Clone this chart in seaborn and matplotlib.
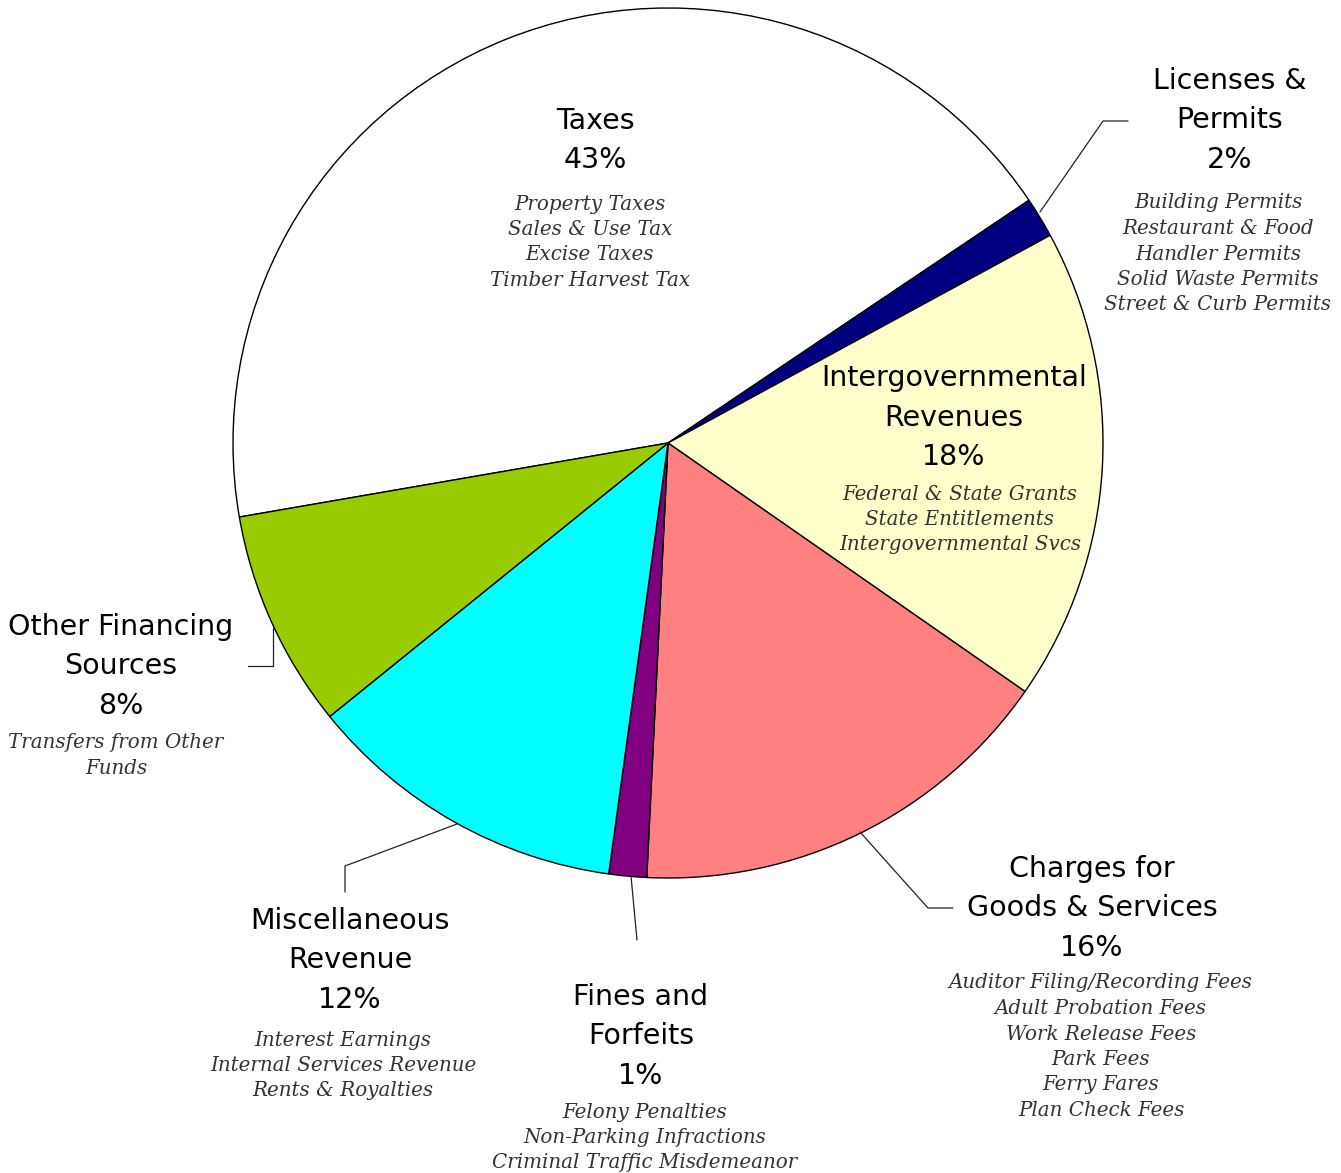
#!/usr/bin/env python3
"""Revenue sources pie chart with callout labels."""
import matplotlib
matplotlib.use("Agg")
import matplotlib.pyplot as plt
import seaborn as sns

# ---- data -----------------------------------------------------------------
categories = ["Taxes", "Licenses &\nPermits", "Intergovernmental\nRevenues",
              "Charges for\nGoods & Services", "Fines and\nForfeits",
              "Miscellaneous\nRevenue", "Other Financing\nSources"]
shares = [43.3, 1.5, 17.6, 16.1, 1.4, 12.0, 8.1]
pct_labels = ["43%", "2%", "18%", "16%", "1%", "12%", "8%"]
details = [
    ["Property Taxes", "Sales & Use Tax", "Excise Taxes", "Timber Harvest Tax"],
    ["Building Permits", "Restaurant & Food", "Handler Permits",
     "Solid Waste Permits", "Street & Curb Permits"],
    ["Federal & State Grants", "State Entitlements", "Intergovernmental Svcs"],
    ["Auditor Filing/Recording Fees", "Adult Probation Fees", "Work Release Fees",
     "Park Fees", "Ferry Fares", "Plan Check Fees"],
    ["Felony Penalties", "Non-Parking Infractions", "Criminal Traffic Misdemeanor"],
    ["Interest Earnings", "Internal Services Revenue", "Rents & Royalties"],
    ["Transfers from Other", "Funds"],
]
colors = ["#FFFFFF", "#000080", "#FFFFCC", "#FF8080", "#800080", "#00FFFF", "#99CC00"]

# ---- layout (pixel space, y measured from the top) ------------------------
W, H = 1341, 1173
CENTER = (668, 443)
RADIUS = 435
# anchor of the first title line and of the first detail line per block
title_pos = [(595, 121), (1230, 81), (954, 378), (1092, 869),
             (641, 997), (350, 921), (121, 627)]
detail_pos = [(590, 204), (1218, 203), (960, 494), (1101, 983),
              (645, 1112), (343, 1040), (116, 743)]
# leader line paths
leaders = [
    None,
    [(1040, 212), (1103, 121), (1128, 121)],
    None,
    [(860, 832), (928, 908), (953, 908)],
    [(631, 876), (637, 940)],
    [(457, 824), (345, 866), (345, 892)],
    [(273, 628), (273, 666), (248, 666)],
]

sns.set_theme(style="white")
plt.rcParams["font.family"] = ["DejaVu Sans"]

fig = plt.figure(figsize=(W / 100, H / 100), dpi=100)
ax = fig.add_axes([0, 0, 1, 1])


def fy(y):
    return H - y


ax.pie(shares, colors=colors, center=(CENTER[0], fy(CENTER[1])), radius=RADIUS,
       startangle=189.8, counterclock=False,
       wedgeprops=dict(edgecolor="black", linewidth=1.0))
ax.set_xlim(0, W)
ax.set_ylim(0, H)
ax.set_aspect("equal")
ax.axis("off")

TITLE_STEP = 39.5
DETAIL_STEP = 25.5
for name, pct, items, (tx, ty), (dx, dy) in zip(categories, pct_labels, details,
                                                title_pos, detail_pos):
    lines = name.split("\n") + [pct]
    for i, line in enumerate(lines):
        ax.text(tx, fy(ty + i * TITLE_STEP), line, ha="center", va="center",
                fontsize=20.5, color="black")
    for j, item in enumerate(items):
        ax.text(dx, fy(dy + j * DETAIL_STEP), item, ha="center", va="center",
                fontsize=14.3, style="italic", color="#333333",
                family="DejaVu Serif")

for path in leaders:
    if path is None:
        continue
    xs = [p[0] for p in path]
    ys = [fy(p[1]) for p in path]
    ax.plot(xs, ys, color="#222222", linewidth=0.9)

fig.savefig("out.png", dpi=100, facecolor="white")
